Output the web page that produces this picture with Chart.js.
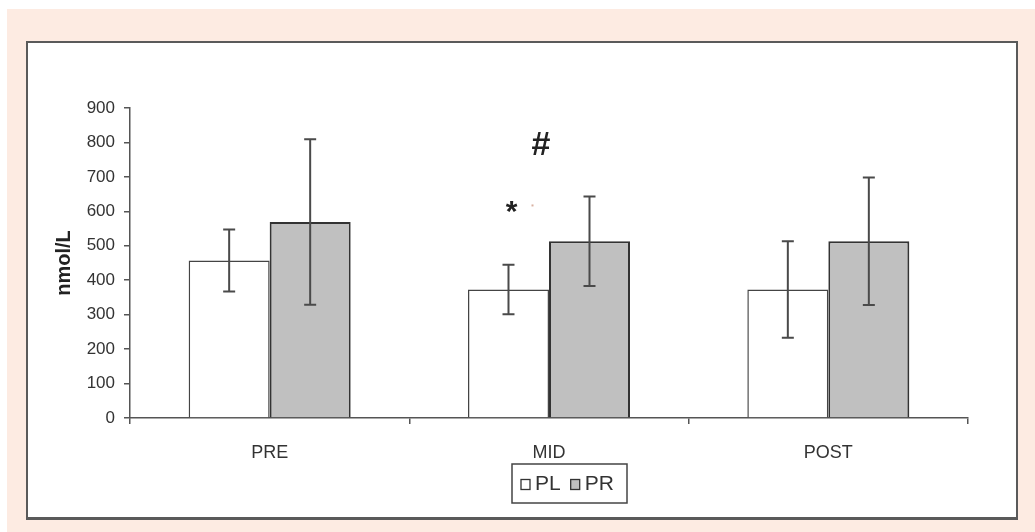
<!DOCTYPE html>
<html>
<head>
<meta charset="utf-8">
<script src="https://cdn.jsdelivr.net/npm/chart.js@4.4.1/dist/chart.umd.min.js"></script>
<style>
  html, body { margin: 0; padding: 0; background: #ffffff; }
  #bg { position: absolute; left: 7px; top: 9px; width: 1028px; height: 523px; background: #fdebe2; }
  #frame { position: absolute; left: 26px; top: 41px; width: 988px; height: 474px; background: #ffffff;
           border: 2px solid #5a5a5a; border-bottom-width: 3px; }
  #wrap { position: absolute; left: 0; top: 0; width: 1035px; height: 532px; }
</style>
</head>
<body>
<div id="bg"></div>
<div id="frame"></div>
<div id="wrap"><canvas id="barChart"></canvas></div>
<script>
    const categories = ['PRE', 'MID', 'POST'];
    const pl_values = [457, 373, 373];
    const pl_errors = [90, 72, 140];
    const pr_values = [569, 513, 513];
    const pr_errors = [240, 130, 185];
    const y_ticks = [0, 100, 200, 300, 400, 500, 600, 700, 800, 900];

    const fontFamily = '"Liberation Sans", Arial, sans-serif';
    const inkColor = '#333333';

    // error bars, drawn from the bar elements and the y scale
    const errorBarsPlugin = {
        id: 'errorBars',
        afterDatasetsDraw(chart) {
            const ctx = chart.ctx;
            const yScale = chart.scales.y;
            ctx.save();
            ctx.strokeStyle = '#4a4a4a';
            ctx.lineWidth = 2;
            chart.data.datasets.forEach((ds, di) => {
                const meta = chart.getDatasetMeta(di);
                meta.data.forEach((bar, i) => {
                    const v = ds.data[i];
                    const e = ds.errors[i];
                    const yTop = yScale.getPixelForValue(v + e);
                    const yBot = yScale.getPixelForValue(v - e);
                    ctx.beginPath();
                    ctx.moveTo(bar.x, yTop);
                    ctx.lineTo(bar.x, yBot);
                    ctx.moveTo(bar.x - 6, yTop);
                    ctx.lineTo(bar.x + 6, yTop);
                    ctx.moveTo(bar.x - 6, yBot);
                    ctx.lineTo(bar.x + 6, yBot);
                    ctx.stroke();
                });
            });
            ctx.restore();
        }
    };

    // significance marks above MID
    const marksPlugin = {
        id: 'marks',
        afterDatasetsDraw(chart) {
            const ctx = chart.ctx;
            const xScale = chart.scales.x;
            const yScale = chart.scales.y;
            const plBar = chart.getDatasetMeta(0).data[1];
            ctx.save();
            ctx.fillStyle = '#222222';
            ctx.textAlign = 'center';
            ctx.textBaseline = 'middle';
            ctx.font = 'bold 30px ' + fontFamily;
            ctx.fillText('*', plBar.x + 3, yScale.getPixelForValue(595));
            ctx.font = 'bold 34px ' + fontFamily;
            ctx.fillText('#', xScale.getPixelForValue(1) - 8, yScale.getPixelForValue(790));
            // faint speck next to the star
            ctx.fillStyle = '#d8b0a0';
            ctx.fillRect(plBar.x + 23, yScale.getPixelForValue(620), 2, 2);
            ctx.restore();
        }
    };

    // boxed legend under the axis
    const boxLegendPlugin = {
        id: 'boxLegend',
        afterDraw(chart) {
            const ctx = chart.ctx;
            const left = 512, top = 464, width = 115, height = 39;
            ctx.save();
            ctx.strokeStyle = '#444444';
            ctx.lineWidth = 1.5;
            ctx.strokeRect(left, top, width, height);
            ctx.font = '21px ' + fontFamily;
            ctx.textBaseline = 'middle';
            let x = left + 9;
            const cy = top + height / 2 + 1;
            chart.data.datasets.forEach((ds) => {
                ctx.fillStyle = ds.backgroundColor;
                ctx.fillRect(x, cy - 5, 9, 10);
                ctx.strokeStyle = '#333333';
                ctx.lineWidth = 1.3;
                ctx.strokeRect(x, cy - 5, 9, 10);
                ctx.fillStyle = inkColor;
                ctx.fillText(ds.label, x + 14, cy);
                x += 14 + ctx.measureText(ds.label).width + 10;
            });
            ctx.restore();
        }
    };

    function initChart() {
        const ctx = document.getElementById('barChart').getContext('2d');
        new Chart(ctx, {
            type: 'bar',
            data: {
                labels: categories,
                datasets: [
                    {
                        label: 'PL',
                        data: pl_values,
                        errors: pl_errors,
                        backgroundColor: '#ffffff',
                        borderColor: '#444444',
                        borderWidth: { top: 1.5, left: 1.5, right: 1.5, bottom: 0 },
                        categoryPercentage: 0.58,
                        barPercentage: 1.0
                    },
                    {
                        label: 'PR',
                        data: pr_values,
                        errors: pr_errors,
                        backgroundColor: '#c0c0c0',
                        borderColor: '#333333',
                        borderWidth: { top: 2, left: 2, right: 2, bottom: 0 },
                        categoryPercentage: 0.58,
                        barPercentage: 1.0
                    }
                ]
            },
            options: {
                responsive: false,
                animation: false,
                layout: { padding: { left: 27, right: 67, top: 108, bottom: 0 } },
                plugins: {
                    legend: { display: false },
                    tooltip: { enabled: false }
                },
                scales: {
                    x: {
                        grid: { drawOnChartArea: false, offset: true, tickLength: 6, color: '#555555', lineWidth: 1.5 },
                        border: { color: '#555555', width: 1.5 },
                        ticks: { color: inkColor, padding: 18, font: { family: fontFamily, size: 18 } },
                        afterFit: (scale) => { scale.height = 114; }
                    },
                    y: {
                        min: 0,
                        max: 900,
                        afterBuildTicks: (scale) => { scale.ticks = y_ticks.map(v => ({ value: v })); },
                        grid: { drawOnChartArea: false, tickLength: 6, color: '#555555', lineWidth: 1.5 },
                        border: { color: '#555555', width: 1.5 },
                        ticks: { color: inkColor, padding: 9, font: { family: fontFamily, size: 17 } },
                        title: {
                            display: true,
                            text: 'nmol/L',
                            color: '#222222',
                            padding: { top: 25, bottom: 0 },
                            font: { family: fontFamily, size: 20, weight: 'bold' }
                        },
                        afterFit: (scale) => { scale.width = 103; }
                    }
                }
            },
            plugins: [errorBarsPlugin, marksPlugin, boxLegendPlugin]
        });
    }

    const cv = document.getElementById('barChart');
    cv.width = 1035;
    cv.height = 532;
    document.addEventListener('DOMContentLoaded', initChart);
</script>
</body>
</html>
